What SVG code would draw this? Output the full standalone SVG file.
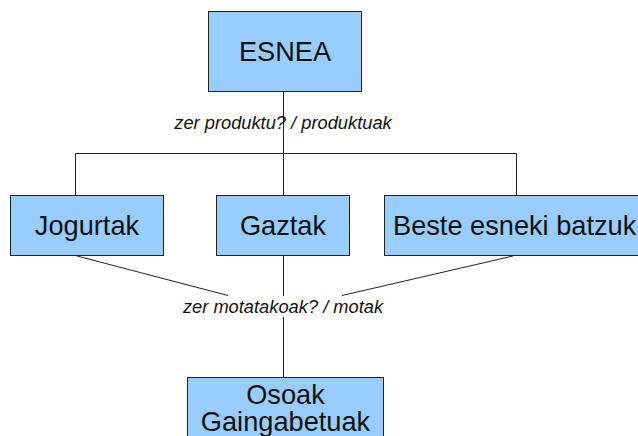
<svg xmlns="http://www.w3.org/2000/svg" width="638" height="436" viewBox="0 0 638 436">
  <style>
    .box { fill: #99ccff; stroke: #222222; stroke-width: 1; }
    .lbl { font-family: "Liberation Sans", Arial, sans-serif; font-size: 27.2px; fill: #111111; }
    .edge { fill: none; stroke: #222222; stroke-width: 1; }
    .note { font-family: "Liberation Sans", Arial, sans-serif; font-size: 18.3px; font-style: italic; fill: #111111; }
  </style>
  <rect width="638" height="436" fill="#ffffff"/>

  <g id="connectors">
    <!-- root to first level -->
    <path class="edge" d="M283.5,92 V195"/>
    <path class="edge" d="M75.5,195 V153.5 H516.5 V195"/>
    <text class="note" x="283" y="129" text-anchor="middle">zer produktu? / produktuak</text>
    <!-- first level to second level -->
    <path class="edge" d="M77,256 L228,295.5"/>
    <path class="edge" d="M513,256 L342,295.5"/>
    <path class="edge" d="M283.5,256 V296"/>
    <path class="edge" d="M283.5,317 V377"/>
    <text class="note" x="283" y="313" text-anchor="middle">zer motatakoak? / motak</text>
  </g>

  <g id="esnea">
    <rect class="box" x="208.5" y="11.5" width="153" height="80"/>
    <text class="lbl" x="285" y="61" text-anchor="middle">ESNEA</text>
  </g>

  <g id="jogurtak">
    <rect class="box" x="10.5" y="195.5" width="153" height="60"/>
    <text class="lbl" x="87" y="235" text-anchor="middle">Jogurtak</text>
  </g>

  <g id="gaztak">
    <rect class="box" x="216.5" y="195.5" width="133" height="60"/>
    <text class="lbl" x="283" y="235" text-anchor="middle">Gaztak</text>
  </g>

  <g id="beste">
    <rect class="box" x="384.5" y="195.5" width="270" height="60"/>
    <text class="lbl" x="393" y="235">Beste esneki batzuk</text>
  </g>

  <g id="osoak">
    <rect class="box" x="187.5" y="377.5" width="196" height="70"/>
    <text class="lbl" x="285.5" y="404" text-anchor="middle">Osoak</text>
    <text class="lbl" x="285.5" y="431" text-anchor="middle">Gaingabetuak</text>
  </g>
</svg>
